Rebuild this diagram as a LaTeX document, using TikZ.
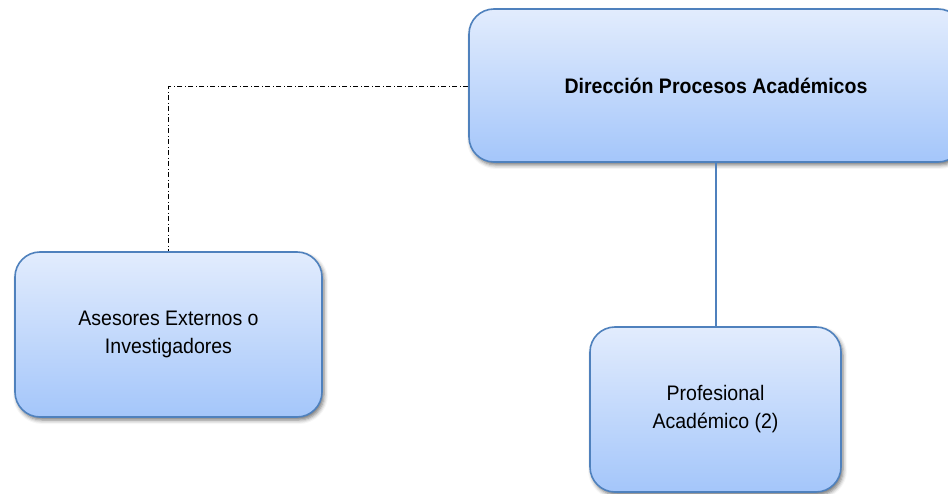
\documentclass[tikz,border=0pt]{standalone}
\usepackage{fontspec}
\setmainfont{Liberation Sans}[FakeStretch=0.93]
\usetikzlibrary{shadows.blur}
\definecolor{boxtop}{RGB}{226,236,253}
\definecolor{boxbot}{RGB}{164,198,250}
\definecolor{boxline}{RGB}{79,129,189}
\tikzset{
  unit/.style={draw=boxline, line width=1.6pt, rounded corners=25pt,
    top color=boxtop, bottom color=boxbot, align=center,
    font=\fontsize{21}{28}\selectfont, inner sep=0pt,
    blur shadow={shadow xshift=2pt, shadow yshift=-3pt,
      shadow blur radius=4pt, shadow opacity=55}},
  solidlink/.style={draw=boxline, line width=1.6pt},
  advisorylink/.style={draw=black, line width=1pt,
    dash pattern=on 5pt off 2.5pt on 1pt off 2.5pt}
}
\begin{document}
\begin{tikzpicture}[x=1pt, y=-1pt]
  \useasboundingbox (0,0) rectangle (948,494);
  \clip (0,0) rectangle (948,494);
  % units of the chart
  \node[unit, minimum width=494pt, minimum height=153pt] (dir) at (716,85.5)
    {\textbf{Dirección Procesos Académicos}};
  \node[unit, minimum width=307pt, minimum height=165pt] (ases) at (168.5,334.5)
    {Asesores Externos o\\Investigadores};
  \node[unit, minimum width=251pt, minimum height=165pt] (prof) at (715.5,409.5)
    {Profesional\\Académico (2)};
  % reporting lines
  \draw[solidlink] (dir.south) -- (dir.south |- prof.north);
  \draw[advisorylink] ([yshift=-1.5pt]dir.west) -| (ases.north);
\end{tikzpicture}
\end{document}
